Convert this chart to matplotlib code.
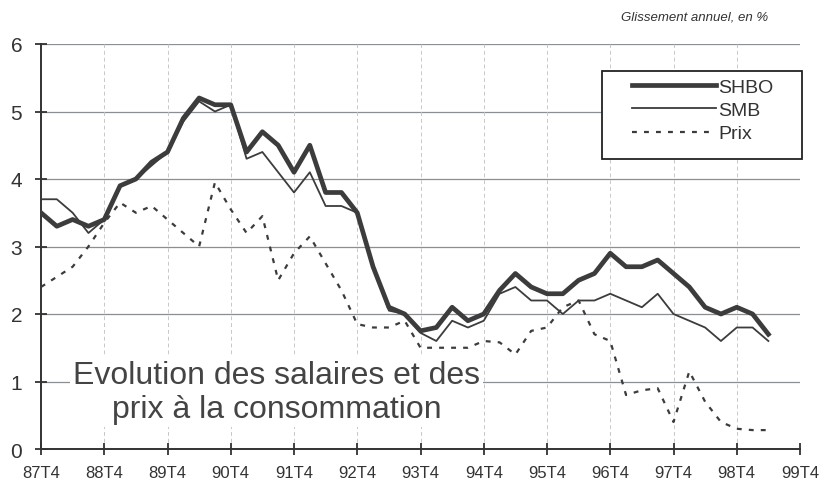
import matplotlib
matplotlib.use("Agg")
import matplotlib.pyplot as plt
from matplotlib.patches import Rectangle
import numpy as np

plt.rcParams['font.family'] = ['Liberation Sans', 'DejaVu Sans']

# ---- data (quarterly, 87T4 .. 99T2) ----
tick_labels = ["87T4", "88T4", "89T4", "90T4", "91T4", "92T4", "93T4",
               "94T4", "95T4", "96T4", "97T4", "98T4", "99T4"]

shbo = [3.5, 3.3, 3.4, 3.3, 3.4, 3.9, 4.0, 4.25, 4.4, 4.9, 5.2, 5.1, 5.1,
        4.4, 4.7, 4.5, 4.1, 4.5, 3.8, 3.8, 3.5, 2.7, 2.1, 2.0, 1.75, 1.8,
        2.1, 1.9, 2.0, 2.35, 2.6, 2.4, 2.3, 2.3, 2.5, 2.6, 2.9, 2.7, 2.7,
        2.8, 2.6, 2.4, 2.1, 2.0, 2.1, 2.0, 1.7]

smb = [3.7, 3.7, 3.5, 3.2, 3.4, 3.9, 4.0, 4.2, 4.4, 4.85, 5.15, 5.0, 5.1,
       4.3, 4.4, 4.1, 3.8, 4.1, 3.6, 3.6, 3.5, 2.7, 2.05, 2.0, 1.72, 1.6,
       1.9, 1.8, 1.9, 2.3, 2.4, 2.2, 2.2, 2.0, 2.2, 2.2, 2.3, 2.2, 2.1,
       2.3, 2.0, 1.9, 1.8, 1.6, 1.8, 1.8, 1.6]

prix = [2.4, 2.55, 2.7, 3.0, 3.35, 3.65, 3.5, 3.6, 3.4, 3.2, 3.0, 3.95,
        3.55, 3.2, 3.45, 2.5, 2.9, 3.15, 2.75, 2.35, 1.85, 1.8, 1.8, 1.9,
        1.5, 1.5, 1.5, 1.5, 1.6, 1.58, 1.4, 1.75, 1.8, 2.1, 2.2, 1.7, 1.6,
        0.8, 0.87, 0.9, 0.4, 1.15, 0.7, 0.4, 0.3, 0.28, 0.28]

series_names = ["SHBO", "SMB", "Prix"]

q = np.arange(len(shbo))
tick_pos = np.arange(len(tick_labels)) * 4

W, H = 834, 481
fig = plt.figure(figsize=(8.34, 4.81), dpi=100)
ax_l, ax_r, ax_t, ax_b = 41, 800, 45, 450
ax = fig.add_axes([ax_l/W, 1-ax_b/H, (ax_r-ax_l)/W, (ax_b-ax_t)/H])

col = "#3c3c3c"
ax.plot(q, shbo, color=col, lw=3.4, label=series_names[0], zorder=4)
ax.plot(q, smb, color=col, lw=1.3, label=series_names[1], zorder=3)
ax.plot(q, prix, color=col, lw=1.6, linestyle=(0, (2.2, 3.2)), label=series_names[2], zorder=3)

ax.set_xlim(0, 48)
ax.set_ylim(0, 6)
ax.set_xticks(tick_pos)
ax.set_xticklabels(tick_labels, fontsize=12, color="#333333")
ax.set_yticks(range(0, 7))
ax.set_yticklabels([str(v) for v in range(0, 7)], fontsize=15, color="#333333")

for s in ["top", "right"]:
    ax.spines[s].set_visible(False)
for s in ["left", "bottom"]:
    ax.spines[s].set_linewidth(1.4)
    ax.spines[s].set_color("#333333")

ax.tick_params(axis='both', direction='inout', length=9, width=1.3, color="#333333")
ax.tick_params(axis='x', pad=7)
ax.tick_params(axis='y', pad=9)

for yv in range(1, 7):
    ax.axhline(yv, color="#8a8f94", lw=0.9, zorder=1)
for xv in tick_pos[1:]:
    ax.axvline(xv, color="#c8c8c8", lw=0.7, linestyle=(0, (4, 3)), zorder=1)

ax.text(14.9, 0.84, "Evolution des salaires et des\nprix à la consommation",
        ha="center", va="center", fontsize=23, color="#444444",
        linespacing=1.17, zorder=5,
        bbox=dict(facecolor="white", edgecolor="none", pad=2))

fig.text(768/W, 1-18/H, "Glissement annuel, en %", ha="right", va="center",
         fontsize=9.5, style="italic", color="#333333")

# legend box
bx0, bx1, by0, by1 = 602, 802, 72, 160
def axfx(px):
    return (px - ax_l) / (ax_r - ax_l)
def axfy(py):
    return (ax_b - py) / (ax_b - ax_t)
box = Rectangle((axfx(bx0), axfy(by1)), axfx(bx1) - axfx(bx0), axfy(by0) - axfy(by1),
                transform=ax.transAxes, facecolor="white", edgecolor="#222222",
                lw=1.3, zorder=6, clip_on=False)
ax.add_patch(box)

leg = ax.legend(loc="upper left", bbox_to_anchor=(axfx(632), axfy(79)), borderaxespad=0,
                fontsize=14, frameon=False, handlelength=4.3,
                handletextpad=0.15, labelspacing=0.3, borderpad=0.0)
leg.set_zorder(7)
for t in leg.get_texts():
    t.set_color("#333333")

fig.savefig("out.png", dpi=100)
